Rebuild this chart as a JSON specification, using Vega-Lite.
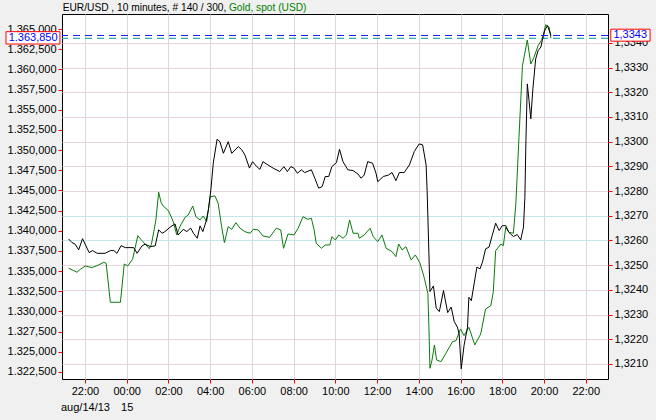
{
  "$schema": "https://vega.github.io/schema/vega-lite/v6.json",
  "width": 546,
  "height": 365,
  "autosize": {"type": "none"},
  "padding": {"left": 62, "top": 14, "right": 48, "bottom": 41},
  "background": "#f0f0f0",
  "config": {
    "view": {"fill": "#ffffff", "stroke": "#000000", "strokeWidth": 1},
    "axis": {"labelFont": "Liberation Sans", "labelFontSize": 11, "labelColor": "#000000", "tickColor": "#ff0000", "tickSize": 4, "domain": false, "labelPadding": 2, "labelOverlap": false, "labelFlush": false}
  },
  "datasets": {
    "gold": [
      {"time": "2013-08-14T21:13", "price": 1335.35},
      {"time": "2013-08-14T21:28", "price": 1335.05},
      {"time": "2013-08-14T21:37", "price": 1334.86},
      {"time": "2013-08-14T21:47", "price": 1335.23},
      {"time": "2013-08-14T22:01", "price": 1335.64},
      {"time": "2013-08-14T22:20", "price": 1335.43},
      {"time": "2013-08-14T22:39", "price": 1335.76},
      {"time": "2013-08-14T22:54", "price": 1336.09},
      {"time": "2013-08-14T23:01", "price": 1335.97},
      {"time": "2013-08-14T23:13", "price": 1331.14},
      {"time": "2013-08-14T23:42", "price": 1331.14},
      {"time": "2013-08-14T23:53", "price": 1335.88},
      {"time": "2013-08-15T00:03", "price": 1335.64},
      {"time": "2013-08-15T00:17", "price": 1336.47},
      {"time": "2013-08-15T00:32", "price": 1339.39},
      {"time": "2013-08-15T00:44", "price": 1338.77},
      {"time": "2013-08-15T00:58", "price": 1338.11},
      {"time": "2013-08-15T01:05", "price": 1337.78},
      {"time": "2013-08-15T01:11", "price": 1338.32},
      {"time": "2013-08-15T01:18", "price": 1339.89},
      {"time": "2013-08-15T01:24", "price": 1341.34},
      {"time": "2013-08-15T01:32", "price": 1344.77},
      {"time": "2013-08-15T01:39", "price": 1343.48},
      {"time": "2013-08-15T01:45", "price": 1343.07},
      {"time": "2013-08-15T02:00", "price": 1342.49},
      {"time": "2013-08-15T02:14", "price": 1341.12},
      {"time": "2013-08-15T02:24", "price": 1339.48},
      {"time": "2013-08-15T02:33", "price": 1340.51},
      {"time": "2013-08-15T02:48", "price": 1341.67},
      {"time": "2013-08-15T02:57", "price": 1341.95},
      {"time": "2013-08-15T03:10", "price": 1343.07},
      {"time": "2013-08-15T03:19", "price": 1341.74},
      {"time": "2013-08-15T03:31", "price": 1341.34},
      {"time": "2013-08-15T03:40", "price": 1341.83},
      {"time": "2013-08-15T03:50", "price": 1341.12},
      {"time": "2013-08-15T04:00", "price": 1344.22},
      {"time": "2013-08-15T04:14", "price": 1344.31},
      {"time": "2013-08-15T04:23", "price": 1343.40},
      {"time": "2013-08-15T04:33", "price": 1340.51},
      {"time": "2013-08-15T04:41", "price": 1338.52},
      {"time": "2013-08-15T04:52", "price": 1340.51},
      {"time": "2013-08-15T05:02", "price": 1340.18},
      {"time": "2013-08-15T05:14", "price": 1341.00},
      {"time": "2013-08-15T05:26", "price": 1340.31},
      {"time": "2013-08-15T05:40", "price": 1339.89},
      {"time": "2013-08-15T05:55", "price": 1339.69},
      {"time": "2013-08-15T06:04", "price": 1340.18},
      {"time": "2013-08-15T06:18", "price": 1340.10},
      {"time": "2013-08-15T06:32", "price": 1339.35},
      {"time": "2013-08-15T06:51", "price": 1339.19},
      {"time": "2013-08-15T07:10", "price": 1340.31},
      {"time": "2013-08-15T07:23", "price": 1340.10},
      {"time": "2013-08-15T07:31", "price": 1337.83},
      {"time": "2013-08-15T07:44", "price": 1339.60},
      {"time": "2013-08-15T08:01", "price": 1339.48},
      {"time": "2013-08-15T08:13", "price": 1340.31},
      {"time": "2013-08-15T08:27", "price": 1341.74},
      {"time": "2013-08-15T08:41", "price": 1341.42},
      {"time": "2013-08-15T08:51", "price": 1341.55},
      {"time": "2013-08-15T08:59", "price": 1340.10},
      {"time": "2013-08-15T09:05", "price": 1338.45},
      {"time": "2013-08-15T09:20", "price": 1337.83},
      {"time": "2013-08-15T09:31", "price": 1338.24},
      {"time": "2013-08-15T09:44", "price": 1338.24},
      {"time": "2013-08-15T09:50", "price": 1339.27},
      {"time": "2013-08-15T10:00", "price": 1338.86},
      {"time": "2013-08-15T10:10", "price": 1339.48},
      {"time": "2013-08-15T10:22", "price": 1339.07},
      {"time": "2013-08-15T10:32", "price": 1339.48},
      {"time": "2013-08-15T10:41", "price": 1341.34},
      {"time": "2013-08-15T10:51", "price": 1339.69},
      {"time": "2013-08-15T11:05", "price": 1339.69},
      {"time": "2013-08-15T11:09", "price": 1339.07},
      {"time": "2013-08-15T11:23", "price": 1339.48},
      {"time": "2013-08-15T11:40", "price": 1340.31},
      {"time": "2013-08-15T11:49", "price": 1339.27},
      {"time": "2013-08-15T12:02", "price": 1338.65},
      {"time": "2013-08-15T12:14", "price": 1339.48},
      {"time": "2013-08-15T12:26", "price": 1337.83},
      {"time": "2013-08-15T12:43", "price": 1337.41},
      {"time": "2013-08-15T12:54", "price": 1336.79},
      {"time": "2013-08-15T13:02", "price": 1338.36},
      {"time": "2013-08-15T13:12", "price": 1337.62},
      {"time": "2013-08-15T13:23", "price": 1338.03},
      {"time": "2013-08-15T13:38", "price": 1336.38},
      {"time": "2013-08-15T13:50", "price": 1337.00},
      {"time": "2013-08-15T14:03", "price": 1336.04},
      {"time": "2013-08-15T14:16", "price": 1334.11},
      {"time": "2013-08-15T14:26", "price": 1332.25},
      {"time": "2013-08-15T14:29", "price": 1328.11},
      {"time": "2013-08-15T14:32", "price": 1322.96},
      {"time": "2013-08-15T14:38", "price": 1323.99},
      {"time": "2013-08-15T14:45", "price": 1325.85},
      {"time": "2013-08-15T14:51", "price": 1323.99},
      {"time": "2013-08-15T15:04", "price": 1323.78},
      {"time": "2013-08-15T15:18", "price": 1324.82},
      {"time": "2013-08-15T15:37", "price": 1326.26},
      {"time": "2013-08-15T15:47", "price": 1326.38},
      {"time": "2013-08-15T16:00", "price": 1327.83},
      {"time": "2013-08-15T16:10", "price": 1327.00},
      {"time": "2013-08-15T16:24", "price": 1328.04},
      {"time": "2013-08-15T16:41", "price": 1325.85},
      {"time": "2013-08-15T16:58", "price": 1327.21},
      {"time": "2013-08-15T17:12", "price": 1330.31},
      {"time": "2013-08-15T17:27", "price": 1330.72},
      {"time": "2013-08-15T17:34", "price": 1332.38},
      {"time": "2013-08-15T17:41", "price": 1337.53},
      {"time": "2013-08-15T17:56", "price": 1338.36},
      {"time": "2013-08-15T18:03", "price": 1338.15},
      {"time": "2013-08-15T18:10", "price": 1340.43},
      {"time": "2013-08-15T18:19", "price": 1339.81},
      {"time": "2013-08-15T18:32", "price": 1339.69},
      {"time": "2013-08-15T18:39", "price": 1343.32},
      {"time": "2013-08-15T18:48", "price": 1351.58},
      {"time": "2013-08-15T18:58", "price": 1360.45},
      {"time": "2013-08-15T19:12", "price": 1363.64},
      {"time": "2013-08-15T19:22", "price": 1360.66},
      {"time": "2013-08-15T19:31", "price": 1361.49},
      {"time": "2013-08-15T19:43", "price": 1362.93},
      {"time": "2013-08-15T19:55", "price": 1363.76},
      {"time": "2013-08-15T20:05", "price": 1365.53},
      {"time": "2013-08-15T20:15", "price": 1365.21},
      {"time": "2013-08-15T20:20", "price": 1363.85}
    ],
    "eurusd": [
      {"time": "2013-08-14T21:13", "price": 1.32606},
      {"time": "2013-08-14T21:23", "price": 1.32591},
      {"time": "2013-08-14T21:32", "price": 1.32585},
      {"time": "2013-08-14T21:42", "price": 1.32562},
      {"time": "2013-08-14T21:53", "price": 1.32607},
      {"time": "2013-08-14T22:03", "price": 1.32578},
      {"time": "2013-08-14T22:12", "price": 1.32551},
      {"time": "2013-08-14T22:22", "price": 1.32559},
      {"time": "2013-08-14T22:35", "price": 1.32548},
      {"time": "2013-08-14T22:58", "price": 1.32548},
      {"time": "2013-08-14T23:13", "price": 1.32559},
      {"time": "2013-08-14T23:23", "price": 1.32559},
      {"time": "2013-08-14T23:32", "price": 1.32548},
      {"time": "2013-08-14T23:44", "price": 1.32579},
      {"time": "2013-08-14T23:56", "price": 1.32571},
      {"time": "2013-08-15T00:20", "price": 1.32571},
      {"time": "2013-08-15T00:30", "price": 1.32548},
      {"time": "2013-08-15T00:44", "price": 1.32578},
      {"time": "2013-08-15T00:53", "price": 1.32585},
      {"time": "2013-08-15T01:08", "price": 1.32575},
      {"time": "2013-08-15T01:22", "price": 1.32578},
      {"time": "2013-08-15T01:32", "price": 1.32643},
      {"time": "2013-08-15T01:42", "price": 1.32629},
      {"time": "2013-08-15T01:50", "price": 1.32636},
      {"time": "2013-08-15T02:05", "price": 1.32654},
      {"time": "2013-08-15T02:19", "price": 1.32667},
      {"time": "2013-08-15T02:28", "price": 1.32622},
      {"time": "2013-08-15T02:43", "price": 1.32645},
      {"time": "2013-08-15T02:53", "price": 1.32636},
      {"time": "2013-08-15T03:04", "price": 1.32650},
      {"time": "2013-08-15T03:12", "price": 1.32629},
      {"time": "2013-08-15T03:23", "price": 1.32609},
      {"time": "2013-08-15T03:31", "price": 1.32659},
      {"time": "2013-08-15T03:39", "price": 1.32636},
      {"time": "2013-08-15T03:48", "price": 1.32676},
      {"time": "2013-08-15T03:55", "price": 1.32724},
      {"time": "2013-08-15T04:02", "price": 1.32805},
      {"time": "2013-08-15T04:09", "price": 1.32913},
      {"time": "2013-08-15T04:20", "price": 1.33010},
      {"time": "2013-08-15T04:28", "price": 1.33000},
      {"time": "2013-08-15T04:38", "price": 1.32953},
      {"time": "2013-08-15T04:52", "price": 1.33000},
      {"time": "2013-08-15T05:02", "price": 1.32953},
      {"time": "2013-08-15T05:21", "price": 1.32980},
      {"time": "2013-08-15T05:31", "price": 1.32967},
      {"time": "2013-08-15T05:40", "price": 1.32946},
      {"time": "2013-08-15T05:53", "price": 1.32893},
      {"time": "2013-08-15T06:02", "price": 1.32919},
      {"time": "2013-08-15T06:14", "price": 1.32899},
      {"time": "2013-08-15T06:23", "price": 1.32888},
      {"time": "2013-08-15T06:32", "price": 1.32919},
      {"time": "2013-08-15T06:46", "price": 1.32906},
      {"time": "2013-08-15T07:01", "price": 1.32893},
      {"time": "2013-08-15T07:20", "price": 1.32879},
      {"time": "2013-08-15T07:32", "price": 1.32899},
      {"time": "2013-08-15T07:42", "price": 1.32879},
      {"time": "2013-08-15T07:52", "price": 1.32899},
      {"time": "2013-08-15T08:01", "price": 1.32893},
      {"time": "2013-08-15T08:11", "price": 1.32872},
      {"time": "2013-08-15T08:22", "price": 1.32886},
      {"time": "2013-08-15T08:32", "price": 1.32875},
      {"time": "2013-08-15T08:51", "price": 1.32886},
      {"time": "2013-08-15T09:01", "price": 1.32852},
      {"time": "2013-08-15T09:12", "price": 1.32812},
      {"time": "2013-08-15T09:22", "price": 1.32818},
      {"time": "2013-08-15T09:31", "price": 1.32859},
      {"time": "2013-08-15T09:41", "price": 1.32859},
      {"time": "2013-08-15T09:50", "price": 1.32899},
      {"time": "2013-08-15T10:03", "price": 1.32915},
      {"time": "2013-08-15T10:12", "price": 1.32969},
      {"time": "2013-08-15T10:22", "price": 1.32919},
      {"time": "2013-08-15T10:36", "price": 1.32886},
      {"time": "2013-08-15T10:51", "price": 1.32883},
      {"time": "2013-08-15T11:05", "price": 1.32869},
      {"time": "2013-08-15T11:14", "price": 1.32852},
      {"time": "2013-08-15T11:23", "price": 1.32865},
      {"time": "2013-08-15T11:33", "price": 1.32919},
      {"time": "2013-08-15T11:47", "price": 1.32913},
      {"time": "2013-08-15T11:57", "price": 1.32872},
      {"time": "2013-08-15T12:02", "price": 1.32838},
      {"time": "2013-08-15T12:18", "price": 1.32859},
      {"time": "2013-08-15T12:33", "price": 1.32865},
      {"time": "2013-08-15T12:43", "price": 1.32875},
      {"time": "2013-08-15T12:54", "price": 1.32842},
      {"time": "2013-08-15T13:04", "price": 1.32875},
      {"time": "2013-08-15T13:18", "price": 1.32875},
      {"time": "2013-08-15T13:33", "price": 1.32906},
      {"time": "2013-08-15T13:47", "price": 1.32960},
      {"time": "2013-08-15T14:01", "price": 1.32991},
      {"time": "2013-08-15T14:11", "price": 1.32987},
      {"time": "2013-08-15T14:21", "price": 1.32906},
      {"time": "2013-08-15T14:24", "price": 1.32798},
      {"time": "2013-08-15T14:29", "price": 1.32548},
      {"time": "2013-08-15T14:32", "price": 1.32393},
      {"time": "2013-08-15T14:42", "price": 1.32416},
      {"time": "2013-08-15T14:50", "price": 1.32326},
      {"time": "2013-08-15T14:59", "price": 1.32312},
      {"time": "2013-08-15T15:11", "price": 1.32397},
      {"time": "2013-08-15T15:23", "price": 1.32308},
      {"time": "2013-08-15T15:33", "price": 1.32330},
      {"time": "2013-08-15T15:42", "price": 1.32271},
      {"time": "2013-08-15T15:51", "price": 1.32249},
      {"time": "2013-08-15T15:56", "price": 1.32221},
      {"time": "2013-08-15T16:02", "price": 1.32080},
      {"time": "2013-08-15T16:10", "price": 1.32174},
      {"time": "2013-08-15T16:20", "price": 1.32249},
      {"time": "2013-08-15T16:24", "price": 1.32370},
      {"time": "2013-08-15T16:31", "price": 1.32356},
      {"time": "2013-08-15T16:39", "price": 1.32424},
      {"time": "2013-08-15T16:47", "price": 1.32492},
      {"time": "2013-08-15T16:56", "price": 1.32485},
      {"time": "2013-08-15T17:03", "price": 1.32512},
      {"time": "2013-08-15T17:12", "price": 1.32566},
      {"time": "2013-08-15T17:22", "price": 1.32573},
      {"time": "2013-08-15T17:31", "price": 1.32620},
      {"time": "2013-08-15T17:41", "price": 1.32670},
      {"time": "2013-08-15T17:51", "price": 1.32640},
      {"time": "2013-08-15T18:00", "price": 1.32660},
      {"time": "2013-08-15T18:10", "price": 1.32660},
      {"time": "2013-08-15T18:19", "price": 1.32633},
      {"time": "2013-08-15T18:32", "price": 1.32616},
      {"time": "2013-08-15T18:43", "price": 1.32624},
      {"time": "2013-08-15T18:53", "price": 1.32602},
      {"time": "2013-08-15T19:01", "price": 1.32654},
      {"time": "2013-08-15T19:05", "price": 1.32775},
      {"time": "2013-08-15T19:08", "price": 1.33004},
      {"time": "2013-08-15T19:12", "price": 1.33234},
      {"time": "2013-08-15T19:17", "price": 1.33166},
      {"time": "2013-08-15T19:22", "price": 1.33092},
      {"time": "2013-08-15T19:28", "price": 1.33214},
      {"time": "2013-08-15T19:36", "price": 1.33335},
      {"time": "2013-08-15T19:43", "price": 1.33369},
      {"time": "2013-08-15T19:51", "price": 1.33383},
      {"time": "2013-08-15T19:55", "price": 1.33409},
      {"time": "2013-08-15T20:02", "price": 1.33450},
      {"time": "2013-08-15T20:10", "price": 1.33470},
      {"time": "2013-08-15T20:20", "price": 1.33430}
    ]
  },
  "layer": [
    {
      "layer": [
        {
          "data": {"name": "gold"},
          "mark": {"type": "line", "color": "#0b7a0b", "strokeWidth": 1},
          "encoding": {
            "x": {
              "field": "time", "type": "temporal",
              "scale": {"domain": [{"year": 2013, "month": 8, "date": 14, "hours": 20, "minutes": 54}, {"year": 2013, "month": 8, "date": 15, "hours": 23, "minutes": 4}]},
              "axis": {
                "title": null,
                "tickCount": 40,
                "values": [
                  {"year": 2013, "month": 8, "date": 14, "hours": 22},
                  {"year": 2013, "month": 8, "date": 15, "hours": 0},
                  {"year": 2013, "month": 8, "date": 15, "hours": 2},
                  {"year": 2013, "month": 8, "date": 15, "hours": 4},
                  {"year": 2013, "month": 8, "date": 15, "hours": 6},
                  {"year": 2013, "month": 8, "date": 15, "hours": 8},
                  {"year": 2013, "month": 8, "date": 15, "hours": 10},
                  {"year": 2013, "month": 8, "date": 15, "hours": 12},
                  {"year": 2013, "month": 8, "date": 15, "hours": 14},
                  {"year": 2013, "month": 8, "date": 15, "hours": 16},
                  {"year": 2013, "month": 8, "date": 15, "hours": 18},
                  {"year": 2013, "month": 8, "date": 15, "hours": 20},
                  {"year": 2013, "month": 8, "date": 15, "hours": 22}
                ],
                "labelExpr": "hours(datum.value) == 22 && date(datum.value) == 14 ? ['22:00', 'aug/14/13'] : (hours(datum.value) == 0 ? ['00:00', '15'] : timeFormat(datum.value, '%H:%M'))",
                "labelLineHeight": 16,
                "labelBaseline": "top",
                "grid": true,
                "gridColor": "#d9d9d9"
              }
            },
            "y": {
              "field": "price", "type": "quantitative",
              "scale": {"domain": [1321.63, 1366.86], "zero": false, "nice": false},
              "axis": {
                "orient": "left", "title": null, "grid": false, "tickCount": 40,
                "values": [1322.5, 1325, 1327.5, 1330, 1332.5, 1335, 1337.5, 1340, 1342.5, 1345, 1347.5, 1350, 1352.5, 1355, 1357.5, 1360, 1362.5, 1365],
                "labelExpr": "replace(replace(replace(format(datum.value, ',.3f'), ',', '_'), '.', ','), '_', '.')"
              }
            }
          }
        },
        {
          "data": {"values": [{"last": 1363.85, "label": "1.363,850"}]},
          "mark": {"type": "rule", "color": "#009999", "strokeWidth": 1, "strokeDash": [7, 5]},
          "encoding": {"y": {"field": "last", "type": "quantitative"}}
        },
        {
          "data": {"values": [{"last": 1363.85, "label": "1.363,850"}]},
          "mark": {"type": "rect", "fill": "#ffffff", "stroke": "#ff0000", "strokeWidth": 1},
          "encoding": {
            "x": {"datum": {"year": 2013, "month": 8, "date": 14, "hours": 18, "minutes": 13}, "type": "temporal"},
            "x2": {"datum": {"year": 2013, "month": 8, "date": 14, "hours": 20, "minutes": 48}},
            "y": {"datum": 1364.67, "type": "quantitative"},
            "y2": {"datum": 1363.14}
          }
        },
        {
          "data": {"values": [{"last": 1363.85, "label": "1.363,850"}]},
          "mark": {"type": "text", "color": "#0000ff", "font": "Liberation Sans", "fontSize": 11, "align": "center", "baseline": "middle"},
          "encoding": {
            "x": {"datum": {"year": 2013, "month": 8, "date": 14, "hours": 19, "minutes": 31}, "type": "temporal"},
            "y": {"field": "last", "type": "quantitative"},
            "text": {"field": "label"}
          }
        },
        {
          "data": {"values": [{"title": "EUR/USD , 10 minutes, # 140 / 300,"}]},
          "mark": {"type": "text", "color": "#000000", "font": "Liberation Sans", "fontSize": 10.2, "align": "left", "baseline": "alphabetic"},
          "encoding": {
            "x": {"datum": {"year": 2013, "month": 8, "date": 14, "hours": 20, "minutes": 56}, "type": "temporal"},
            "y": {"datum": 1367.2, "type": "quantitative"},
            "text": {"field": "title"}
          }
        },
        {
          "data": {"values": [{"title": "Gold, spot (USD)"}]},
          "mark": {"type": "text", "color": "#008000", "font": "Liberation Sans", "fontSize": 10.2, "align": "left", "baseline": "alphabetic"},
          "encoding": {
            "x": {"datum": {"year": 2013, "month": 8, "date": 15, "hours": 4, "minutes": 54}, "type": "temporal"},
            "y": {"datum": 1367.2, "type": "quantitative"},
            "text": {"field": "title"}
          }
        }
      ]
    },
    {
      "layer": [
        {
          "data": {"name": "eurusd"},
          "mark": {"type": "line", "color": "#000000", "strokeWidth": 1},
          "encoding": {
            "x": {"field": "time", "type": "temporal"},
            "y": {
              "field": "price", "type": "quantitative",
              "scale": {"domain": [1.32039, 1.33517], "zero": false, "nice": false},
              "axis": {
                "orient": "right", "title": null, "grid": true, "tickCount": 40,
                "gridColor": {"condition": {"test": "datum.value > 1.32595 && datum.value < 1.32705", "value": "#c6e6ec"}, "value": "#e8d5db"},
                "values": [1.321, 1.322, 1.323, 1.324, 1.325, 1.326, 1.327, 1.328, 1.329, 1.330, 1.331, 1.332, 1.333, 1.334],
                "labelExpr": "replace(format(datum.value, '.4f'), '.', ',')"
              }
            }
          }
        },
        {
          "data": {"values": [{"last": 1.3343, "label": "1,3343"}]},
          "mark": {"type": "rule", "color": "#1a1aff", "strokeWidth": 1, "strokeDash": [7, 5]},
          "encoding": {"y": {"field": "last", "type": "quantitative"}}
        },
        {
          "data": {"values": [{"last": 1.3343, "label": "1,3343"}]},
          "mark": {"type": "rect", "fill": "#ffffff", "stroke": "#ff0000", "strokeWidth": 1},
          "encoding": {
            "x": {"datum": {"year": 2013, "month": 8, "date": 15, "hours": 23, "minutes": 12}, "type": "temporal"},
            "x2": {"datum": {"year": 2013, "month": 8, "date": 16, "hours": 1, "minutes": 5}},
            "y": {"datum": 1.334555, "type": "quantitative"},
            "y2": {"datum": 1.33407}
          }
        },
        {
          "data": {"values": [{"last": 1.3343, "label": "1,3343"}]},
          "mark": {"type": "text", "color": "#0000ff", "font": "Liberation Sans", "fontSize": 11, "align": "center", "baseline": "middle"},
          "encoding": {
            "x": {"datum": {"year": 2013, "month": 8, "date": 16, "hours": 0, "minutes": 8}, "type": "temporal"},
            "y": {"field": "last", "type": "quantitative"},
            "text": {"field": "label"}
          }
        }
      ]
    }
  ],
  "resolve": {"scale": {"y": "independent"}, "axis": {"y": "independent"}}
}
